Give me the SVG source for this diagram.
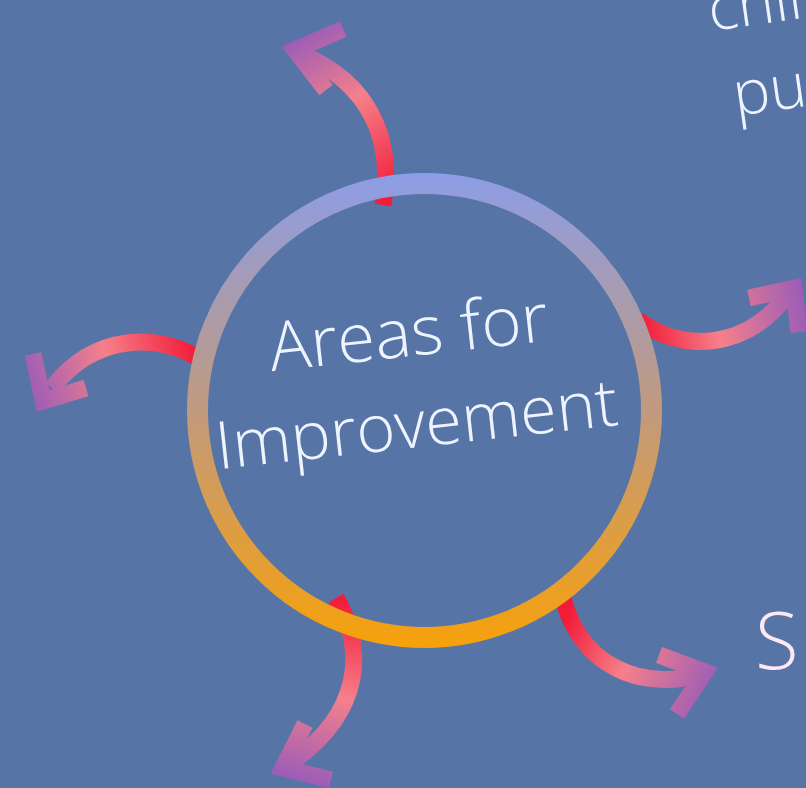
<svg xmlns="http://www.w3.org/2000/svg" width="806" height="788" viewBox="0 0 806 788">
<style>
.shaft{fill:none;stroke-width:17;stroke-linecap:butt}
.head{fill:none;stroke-width:17;stroke-linecap:butt;stroke-linejoin:miter;stroke-miterlimit:10}
.lbl{font-family:"Open Sans","Noto Sans","DejaVu Sans",sans-serif;font-weight:300;fill:#EEF4FF}
</style>
<defs>
<linearGradient id="ring" gradientUnits="userSpaceOnUse" x1="0" y1="173" x2="0" y2="648">
<stop offset="0" stop-color="#8D9DE6"/><stop offset="0.5" stop-color="#C19A7E"/><stop offset="1" stop-color="#F7A10A"/>
</linearGradient>
<linearGradient id="gTop" gradientUnits="userSpaceOnUse" x1="385" y1="200" x2="290" y2="40">
<stop offset="0" stop-color="#F21C38"/><stop offset="0.55" stop-color="#F5808A"/><stop offset="1" stop-color="#9A5CB8"/>
</linearGradient>
<linearGradient id="gLeft" gradientUnits="userSpaceOnUse" x1="195" y1="350" x2="30" y2="400">
<stop offset="0" stop-color="#F21C38"/><stop offset="0.5" stop-color="#F5808A"/><stop offset="1" stop-color="#9A5CB8"/>
</linearGradient>
<linearGradient id="gRight" gradientUnits="userSpaceOnUse" x1="642" y1="330" x2="806" y2="300">
<stop offset="0" stop-color="#F21C38"/><stop offset="0.45" stop-color="#F5808A"/><stop offset="1" stop-color="#9A5CB8"/>
</linearGradient>
<linearGradient id="gBL" gradientUnits="userSpaceOnUse" x1="340" y1="600" x2="290" y2="780">
<stop offset="0" stop-color="#F21C38"/><stop offset="0.5" stop-color="#F5808A"/><stop offset="1" stop-color="#9A5CB8"/>
</linearGradient>
<linearGradient id="gBR" gradientUnits="userSpaceOnUse" x1="565" y1="620" x2="715" y2="690">
<stop offset="0" stop-color="#F21C38"/><stop offset="0.45" stop-color="#F5808A"/><stop offset="1" stop-color="#9A5CB8"/>
</linearGradient>
</defs>
<rect x="0" y="0" width="806" height="788" fill="#5674A5"/>
<g id="connectors">
<g id="arrow-top">
<path class="shaft" stroke="url(#gTop)" d="M383,205 C394,140 370,82 300,54"/>
<polyline class="head" stroke="url(#gTop)" points="343,29 295,50 326,90"/>
</g>
<g id="arrow-left">
<path class="shaft" stroke="url(#gLeft)" d="M198,358 C160,334 95,332 52,388"/>
<polyline class="head" stroke="url(#gLeft)" points="33,354 43,401 86,388"/>
</g>
<g id="arrow-right">
<path class="shaft" stroke="url(#gRight)" d="M638,320 C680,352 745,352 788,294"/>
<polyline class="head" stroke="url(#gRight)" points="749,298 794,288 799,332"/>
</g>
<g id="arrow-bottom-left">
<path class="shaft" stroke="url(#gBL)" d="M336,598 C366,650 362,712 292,762"/>
<polyline class="head" stroke="url(#gBL)" points="305,724 283,768 331,780"/>
</g>
<g id="arrow-bottom-right">
<path class="shaft" stroke="url(#gBR)" d="M563,598 C580,665 640,692 702,674"/>
<polyline class="head" stroke="url(#gBR)" points="659,655 705,672 677,714"/>
</g>
</g>
<g id="center">
<circle cx="424.5" cy="410.5" r="227" fill="none" stroke="url(#ring)" stroke-width="21"/>
<text class="lbl" font-size="68" text-anchor="middle" textLength="280" lengthAdjust="spacingAndGlyphs" transform="translate(411,356) rotate(-6.3)">Areas for</text>
<text class="lbl" font-size="66" text-anchor="middle" textLength="404" lengthAdjust="spacingAndGlyphs" transform="translate(419,447) rotate(-6.3)">Improvement</text>
</g>
<g id="partial-top-right">
<text class="lbl" font-size="62" transform="translate(711,31) rotate(-8)">chil</text>
<text class="lbl" font-size="62" transform="translate(736,116) rotate(-8)">pu</text>
</g>
<g id="partial-right">
<text class="lbl" font-size="80" style="fill:#FCE9F5" transform="translate(755,669)">S</text>
</g>
</svg>
